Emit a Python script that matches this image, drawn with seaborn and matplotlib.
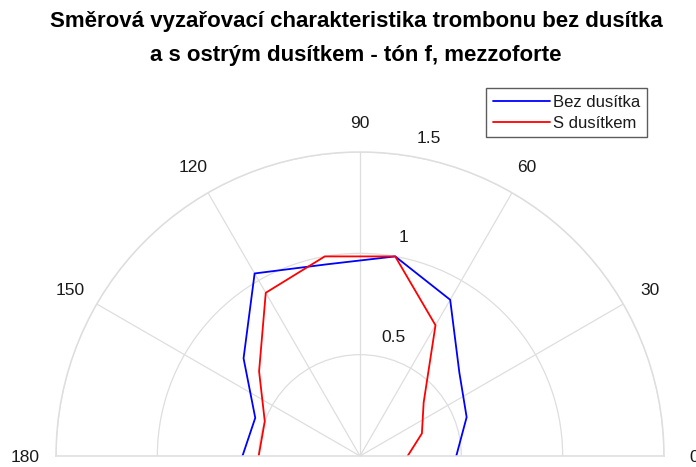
import numpy as np
import pandas as pd
import matplotlib.pyplot as plt
import seaborn as sns

angles = [0, 20, 40, 60, 80, 100, 120, 140, 160, 180]
bez_dusitka = [0.475, 0.56, 0.64, 0.89, 1.0, 0.96, 1.04, 0.75, 0.55, 0.58]
s_dusitkem = [0.235, 0.325, 0.41, 0.745, 1.0, 1.0, 0.93, 0.65, 0.50, 0.50]
series_names = ['Bez dusítka', 'S dusítkem']
theta_ticks = [0, 30, 60, 90, 120, 150, 180]
r_ticks = [0.5, 1, 1.5]
r_labels = ['0.5', '1', '1.5']
title = 'Směrová vyzařovací charakteristika trombonu bez dusítka\na s ostrým dusítkem - tón f, mezzoforte'

df = pd.DataFrame({
    'theta': np.deg2rad(angles * 2),
    'r': bez_dusitka + s_dusitkem,
    'serie': [series_names[0]] * len(angles) + [series_names[1]] * len(angles),
})

sns.set_theme(style='white')
plt.rcParams['font.family'] = ['Liberation Sans', 'DejaVu Sans']
plt.rcParams['text.color'] = 'black'

fig = plt.figure(figsize=(6.96, 4.67), dpi=100)
# polar half-disc: centre at (360, 456) px from top-left, radius 304 px
R = 304
cx, cy = 360, 467 - 456 + R / 2
ax = fig.add_axes([(cx - R) / 696, (cy - R) / 467, 2 * R / 696, 2 * R / 467], projection='polar')
ax.set_thetamin(0)
ax.set_thetamax(180)
ax.set_rlim(0, 1.5)

sns.lineplot(data=df, x='theta', y='r', hue='serie', sort=False, estimator=None,
             palette={series_names[0]: 'blue', series_names[1]: 'red'},
             linewidth=1.3, ax=ax)

grid_col = '#dedede'
ax.set_rticks(r_ticks)
ax.set_yticklabels([])
ax.set_thetagrids(theta_ticks, labels=[''] * len(theta_ticks))
ax.grid(True, color=grid_col, linewidth=0.9)
for s in ['polar', 'start', 'end']:
    ax.spines[s].set_color(grid_col)
    ax.spines[s].set_linewidth(1.1)
ax.spines['inner'].set_visible(False)
ax.set_xlabel('')
ax.set_ylabel('')

for a in theta_ticks:
    ax.text(np.deg2rad(a), 1.65, str(a), ha='center', va='center_baseline', fontsize=12.5,
            color='#1a1a1a', clip_on=False)
for r, lab in zip(r_ticks, r_labels):
    ax.text(np.deg2rad(80), r + 0.1, lab, ha='left', va='center_baseline', fontsize=12.5,
            color='#1a1a1a', clip_on=False)

ax.legend_.remove()
handles, labels = ax.get_legend_handles_labels()
leg = fig.legend(handles, labels, loc='upper right', bbox_to_anchor=(647 / 696, 1 - 88 / 467),
                 fontsize=12, frameon=True, fancybox=False, handlelength=3.4,
                 handletextpad=0.2, borderpad=0.4, labelspacing=0.35, borderaxespad=0)
leg.get_frame().set_edgecolor('#333333')
leg.get_frame().set_linewidth(1.0)
for t in leg.get_texts():
    t.set_color('#1a1a1a')

fig.text(356 / 696, 1 - 38.5 / 467, title, ha='center', va='center', fontsize=16,
         fontweight='bold', linespacing=1.8, color='black')

fig.savefig('out.png', dpi=100)
